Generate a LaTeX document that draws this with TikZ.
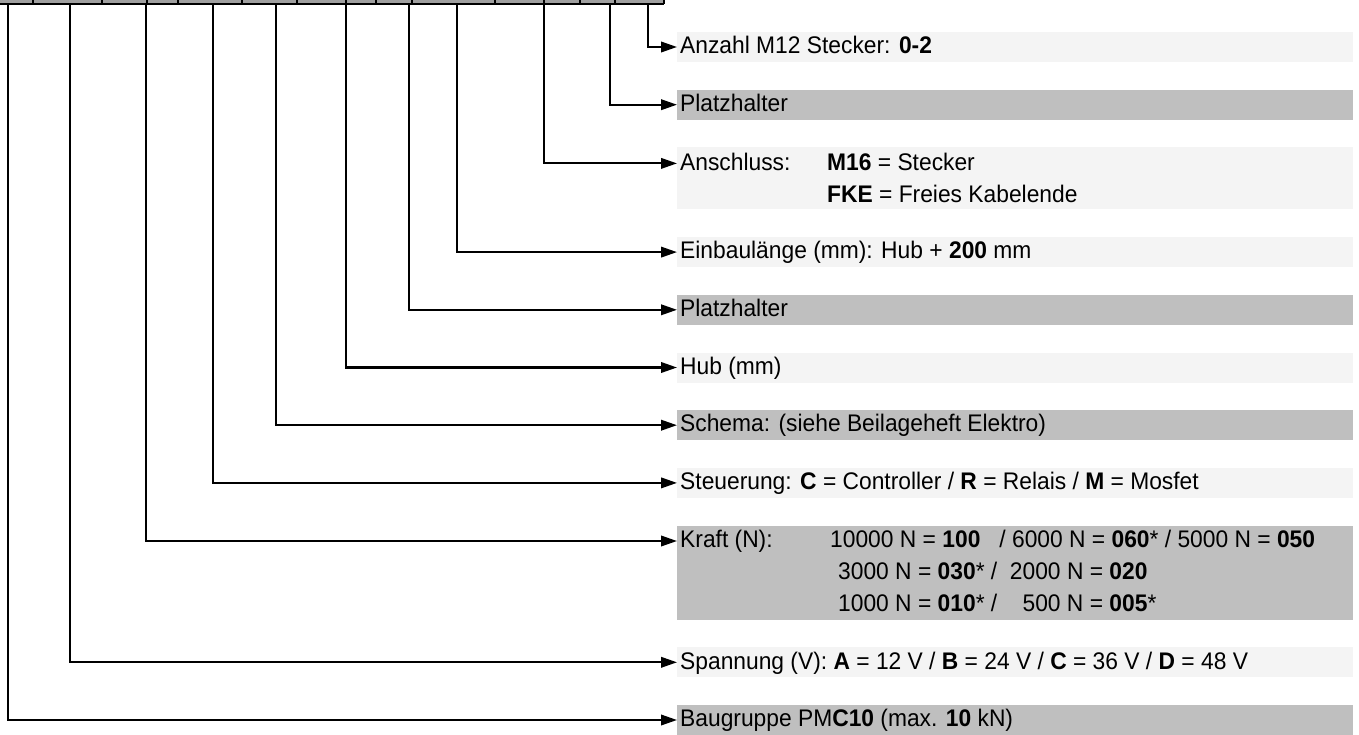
\documentclass[tikz,border=0pt]{standalone}
\usepackage{fontspec}
\setmainfont{Liberation Sans}[FakeStretch=0.95]
\usetikzlibrary{arrows.meta}
\definecolor{boxlight}{HTML}{F4F4F4}
\definecolor{boxdark}{HTML}{BFBFBF}
\definecolor{barfill}{HTML}{A0A0A0}
\begin{document}
\begin{tikzpicture}[x=1pt,y=-1pt,
  font=\fontsize{24}{28}\selectfont,
  lbl/.style={anchor=west, inner xsep=3pt, inner ysep=0pt, text height=17pt, text depth=3.5pt},
  lightbox/.style={fill=boxlight},
  darkbox/.style={fill=boxdark},
  conn/.style={line width=2.1pt, -{Triangle[length=16pt,width=10.5pt]}},
  barline/.style={line width=1.8pt}]
\useasboundingbox (0,0) rectangle (1359,735);
\clip (0,0) rectangle (1359,735);
% top bar (cropped row of cells)
\fill[barfill] (0,-20) rectangle (664,4);
\foreach \x in {33,102,147,178,242,297,346,376,412,495,544,580,615,664}
  \draw[barline] (\x,-20) -- (\x,4);
\draw[barline] (0,4) -- (664,4);
% boxes
\fill[lightbox] (677,32) rectangle (1353,62);
\fill[darkbox]  (677,89.7) rectangle (1353,119.7);
\fill[lightbox] (677,147.4) rectangle (1353,209.4);
\fill[lightbox] (677,237.1) rectangle (1353,267.1);
\fill[darkbox]  (677,294.8) rectangle (1353,324.8);
\fill[lightbox] (677,352.5) rectangle (1353,382.5);
\fill[darkbox]  (677,410.2) rectangle (1353,440.2);
\fill[lightbox] (677,467.9) rectangle (1353,497.9);
\fill[darkbox]  (677,525.6) rectangle (1353,619.6);
\fill[lightbox] (677,647.3) rectangle (1353,677.3);
\fill[darkbox]  (677,705) rectangle (1353,735);
% labels
\node[lbl] (anzahl) at (677,47) {Anzahl M12 Stecker: \textbf{0-2}};
\node[lbl] (platz1) at (677,104.7) {Platzhalter};
\node[lbl] (ansch) at (677,163.4) {Anschluss:};
\node[lbl] (ansch1) at (824,163.4) {\textbf{M16} = Stecker};
\node[lbl] (ansch2) at (824,195.4) {\textbf{FKE} = Freies Kabelende};
\node[lbl] (einbau) at (677,252.1) {Einbaulänge (mm): Hub + \textbf{200} mm};
\node[lbl] (platz2) at (677,309.8) {Platzhalter};
\node[lbl] (hub) at (677,367.5) {Hub (mm)};
\node[lbl] (schema) at (677,425.2) {Schema: (siehe Beilageheft Elektro)};
\node[lbl] (steuer) at (677,482.9) {Steuerung: \textbf{C} = Controller / \textbf{R} = Relais / \textbf{M} = Mosfet};
\node[lbl] (kraft) at (677,541) {Kraft (N):};
\node[lbl] (kraft1) at (827,541) {10000 N = \textbf{100}\ \ \ / 6000 N = \textbf{060}* / 5000 N = \textbf{050}};
\node[lbl] (kraft2) at (835,573) {3000 N = \textbf{030}* /\ \ 2000 N = \textbf{020}};
\node[lbl] (kraft3) at (835,605) {1000 N = \textbf{010}* /\ \ \ \ 500 N = \textbf{005}*};
\node[lbl] (spann) at (677,662.3) {Spannung (V): \textbf{A} = 12 V / \textbf{B} = 24 V / \textbf{C} = 36 V / \textbf{D} = 48 V};
\node[lbl] (baug) at (677,720) {Baugruppe PM\textbf{C10} (max. \textbf{10} kN)};
% connector start points on the bar
\coordinate (tA) at (8,4);
\coordinate (tB) at (70,4);
\coordinate (tC) at (146,4);
\coordinate (tD) at (213,4);
\coordinate (tE) at (276,4);
\coordinate (tF) at (346,4);
\coordinate (tG) at (409,4);
\coordinate (tH) at (457,4);
\coordinate (tI) at (544,4);
\coordinate (tJ) at (610,4);
\coordinate (tK) at (648,4);
% connectors
\draw[conn] (tA) |- (baug.west);
\draw[conn] (tB) |- (spann.west);
\draw[conn] (tC) |- (kraft.west);
\draw[conn] (tD) |- (steuer.west);
\draw[conn] (tE) |- (schema.west);
\draw[conn] (tF) |- (hub.west);
\draw[conn] (tG) |- (platz2.west);
\draw[conn] (tH) |- (einbau.west);
\draw[conn] (tI) |- (ansch.west);
\draw[conn] (tJ) |- (platz1.west);
\draw[conn] (tK) |- (anzahl.west);
\end{tikzpicture}
\end{document}
